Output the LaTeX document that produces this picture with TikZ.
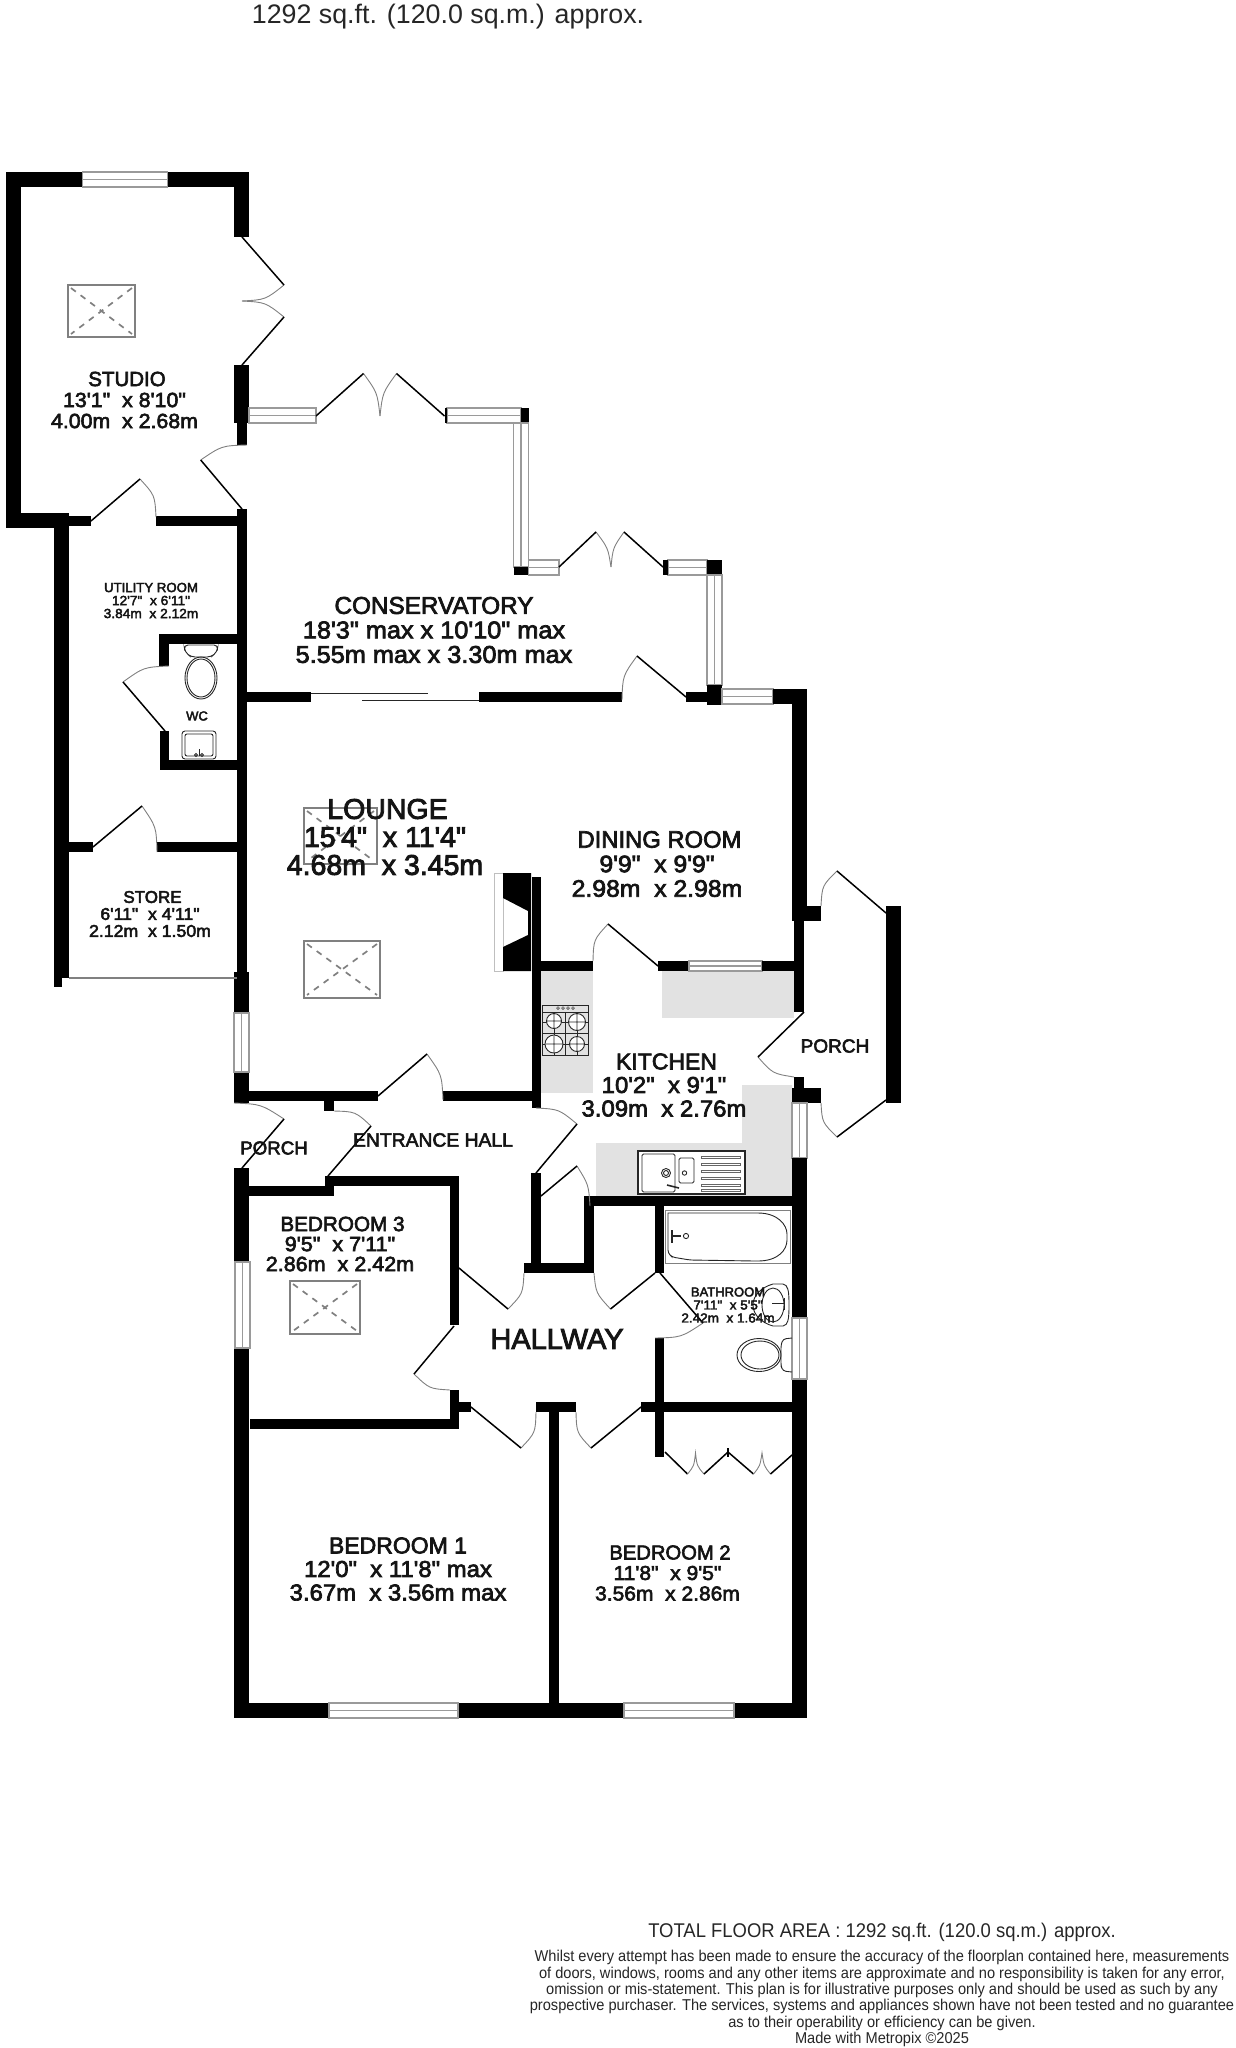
\documentclass[tikz,border=0pt]{standalone}
\usepackage{fontspec}
\usetikzlibrary{calc}
\newfontfamily\lab[FakeBold=3,FakeStretch=1.04]{Liberation Sans}
\newfontfamily\labn[FakeBold=3]{Liberation Sans}
\newfontfamily\plain{Liberation Sans}
\newfontfamily\narrowf[FakeStretch=0.93]{Liberation Sans}
\newcommand{\nm}[1]{\hspace*{5pt}{\labn #1}}
\newcommand{\nmz}[1]{{\labn #1}}
\definecolor{counter}{HTML}{E2E2E2}
\definecolor{wingray}{HTML}{9A9A9A}
\tikzset{
 wall/.style={fill=black},
 counterarea/.style={fill=counter},
 win/.style={draw=wingray,line width=1.1pt,fill=white},
 winmid/.style={draw=wingray,line width=1.4pt},
 leaf/.style={draw=black,line width=1.5pt},
 swing/.style={draw=gray,line width=0.9pt},
 sky/.style={draw=gray,line width=2pt},
 skyd/.style={draw=gray,line width=1.7pt,dash pattern=on 6pt off 6pt},
 fix/.style={draw=black!85,line width=0.9pt},
 rm/.style 2 args={align=center,inner sep=0pt,text=black!92,font=\lab\fontsize{#1}{#2}\selectfont},
 ft/.style 2 args={align=center,inner sep=0pt,text=black!85,font=\plain\fontsize{#1}{#2}\selectfont},
 fn/.style 2 args={align=center,inner sep=0pt,text=black!85,font=\narrowf\fontsize{#1}{#2}\selectfont},
}
\newcommand{\wl}[4]{\fill[wall] (#1,#3) rectangle (#2,#4);}
\newcommand{\hwin}[4]{\draw[win] (#1,#3) rectangle (#2,#4); \draw[winmid] (#1,{(#3+#4)/2}) -- (#2,{(#3+#4)/2});}
\newcommand{\vwin}[4]{\draw[win] (#1,#3) rectangle (#2,#4); \draw[winmid] ({(#1+#2)/2},#3) -- ({(#1+#2)/2},#4);}
\newcommand{\door}[4][0.56]{\draw[swing] (#3) .. controls ($(#2)+#1*($(#3)-(#2)$)+#1*($(#4)-(#2)$)$) .. (#4); \draw[leaf] (#2) -- (#3);}
\newcommand{\skylight}[4]{\draw[sky] (#1,#2) rectangle (#3,#4); \draw[skyd] (#1+3,#2+3) -- (#3-3,#4-3); \draw[skyd] (#3-3,#2+3) -- (#1+3,#4-3);}
\begin{document}
\begin{tikzpicture}[x=1pt,y=-1pt]
\useasboundingbox (0,0) rectangle (1235,2048);
% counters
\fill[counterarea] (541,971) rectangle (593,1093);
\fill[counterarea] (662,971) rectangle (794,1018);
\fill[counterarea] (596,1143) -- (742,1143) -- (742,1085) -- (792,1085) -- (792,1196) -- (596,1196) -- cycle;
% studio
\wl{6}{21}{172}{528}
\wl{6}{249}{172}{187}
\wl{234}{249}{172}{237}
\wl{234}{249}{365}{423}
\wl{237}{247}{423}{445}
\wl{6}{69}{513}{528}
\wl{21}{91}{516}{526}
\wl{156}{247}{516}{526}
\hwin{82.5}{167.5}{172}{187}
% utility
\wl{54}{69}{513}{978}
\wl{54}{62}{978}{987}
\wl{237}{247}{509}{972}
\wl{234}{249}{972}{1013}
\wl{234}{249}{1072}{1103}
\vwin{234}{249}{1013}{1072}
\wl{159}{247}{634}{644}
\wl{159}{169}{634}{666}
\wl{160}{169}{731}{770}
\wl{160}{247}{760}{770}
\wl{69}{93}{842}{852}
\wl{157}{247}{842}{852}
\draw[draw=gray,line width=1.2pt] (69,978) -- (237,978);
% conservatory
\hwin{249}{316}{408}{423}
\hwin{447}{521}{408}{423}
\wl{444.5}{447}{408}{423}
\wl{521}{528.5}{408}{423}
\vwin{513.5}{528.5}{423}{567}
\wl{513.5}{528.5}{567}{575}
\hwin{528.5}{559}{560}{575}
\hwin{668}{707}{560}{575}
\wl{663}{668}{560}{575}
\wl{707}{722}{560}{575}
\vwin{707}{722}{575}{685}
\wl{707}{722}{685}{705}
% lounge / dining top
\wl{247}{311}{692}{702}
\draw[fix] (311,693.5) -- (428,693.5);
\draw[fix] (362,700.7) -- (479,700.7);
\wl{479}{622}{692}{702}
\wl{686}{707}{692}{702}
\hwin{722}{773}{689}{704}
\wl{773}{807}{689}{704}
\wl{792}{807}{689}{921}
\wl{807}{821}{906}{921}
\wl{794}{804}{921}{1012}
\wl{886}{901}{906}{1103}
\wl{541}{593}{961}{971}
\wl{658}{689}{961}{971}
\hwin{689}{762}{961}{971}
\wl{762}{794}{961}{971}
\wl{532}{541}{877}{1108}
% fireplace
\draw[draw=black!25,line width=1pt,fill=white] (494,873) rectangle (503,971);
\fill[wall] (503,873) -- (531,873) -- (531,971) -- (503,971) -- (503,947) -- (528,935) -- (528,911) -- (503,898) -- cycle;
% lounge bottom / porch
\wl{249}{378}{1091}{1101}
\wl{443}{532}{1091}{1101}
\wl{324}{334}{1101}{1111}
\wl{234}{249}{1168}{1718}
\wl{249}{334}{1186}{1196}
\wl{325}{459}{1176}{1186}
\wl{450}{459}{1176}{1325}
\vwin{235}{250}{1262}{1348}
% core
\wl{524}{594}{1263}{1273}
\wl{531}{541}{1173}{1263}
\wl{584}{594}{1196}{1273}
\wl{590}{792}{1196}{1206}
\wl{655}{664}{1206}{1273}
\wl{655}{664}{1338}{1457}
\wl{641}{792}{1402}{1412}
\wl{536}{576}{1402}{1412}
\wl{549}{559}{1412}{1703}
\wl{459}{471}{1402}{1412}
\wl{450}{459}{1390}{1429}
\wl{250}{459}{1419}{1429}
% east wall
\wl{794}{804}{1077}{1088}
\wl{792}{821}{1088}{1103}
\vwin{792}{807}{1103}{1158}
\wl{792}{807}{1158}{1718}
\vwin{792}{807}{1318}{1379}
% south wall
\wl{234}{807}{1703}{1718}
\hwin{329}{458}{1703}{1718}
\hwin{624}{734}{1703}{1718}
% doors
\door{242,237}{284,285}{242,301}
\door{242,365}{284,317}{242,301}
\door[0.55]{316,416}{363.5,373.5}{380,416}
\door[0.55]{444.5,416}{396.5,373.5}{380,416}
\door{242,509}{200.7,460}{247,445}
\door{91,521}{140,479}{156,517}
\door{165,731}{123,682}{169,666}
\door{93,847}{142,806}{157,852}
\door[0.55]{559,567}{596,532}{611,567}
\door[0.55]{663,567}{624,532}{611,567}
\door{686,697}{637,656}{622,700}
\door{658,966}{608,924}{593,961}
\door{886,913}{837,871}{821,906}
\door{886,1100}{837,1137}{821,1103}
\door{804,1012}{758,1057}{794,1077}
\door{378,1096}{427,1054}{443,1100}
\door{328,1176}{371,1126}{334,1111}
\door{242,1168}{284,1119}{234,1103}
\door{536,1173}{577,1124}{536,1108}
\door{541,1196}{577,1166}{590,1206}
\door{459,1268}{508,1309}{524,1273}
\door{655,1273}{610.5,1309}{594,1273}
\door{660,1273}{703,1323}{655,1338}
\door{454,1326}{414,1374}{450,1390}
\door{471,1407}{521,1448}{536,1412}
\door{641,1407}{591,1448}{576,1412}
% wardrobe
\wl{727}{729}{1448}{1457}
\draw[leaf] (665,1452) -- (687.5,1474);
\draw[swing] (687.5,1474) .. controls (694,1466) .. (695.5,1453) .. controls (697,1466) .. (704,1474);
\draw[leaf] (704,1474) -- (728,1452) -- (753.5,1474);
\draw[swing] (753.5,1474) .. controls (760,1466) .. (762,1453) .. controls (764,1466) .. (770.5,1474);
\draw[leaf] (770.5,1474) -- (792,1455);
% skylights
\skylight{68}{285}{135}{337}
\skylight{304}{808}{377}{864}
\skylight{304}{941}{380}{998}
\skylight{290}{1281}{360}{1334}
% WC fixtures
\draw[fix,rounded corners=4pt] (184,645) -- (218,645) -- (217,652) -- (211,657) -- (191,657) -- (185,652) -- cycle;
\draw[fix] (201,678) ellipse [x radius=16,y radius=21];
\draw[fix] (201,678) ellipse [x radius=14,y radius=19];
\draw[fix,rounded corners=3pt] (182,731) rectangle (216,759);
\draw[fix,rounded corners=2pt] (185,734) rectangle (213,756);
\draw[fix] (199,749) -- (199,756);
\draw[fix] (196,755) circle [radius=1.5];
\draw[fix] (202,755) circle [radius=1.5];
% hob
\draw[fix] (542,1005) rectangle (588,1055);
\draw[fix] (565,1012) -- (565,1055);
\draw[fix] (542,1033) -- (588,1033);
\draw[fix] (542,1012) -- (588,1012);
\draw[fix] (542,1022) -- (588,1022);
\draw[fix] (542,1044) -- (588,1044);
\draw[fix] (554,1012) -- (554,1055);
\draw[fix] (577,1012) -- (577,1055);
\fill[white] (554,1021) circle [radius=7.5];
\fill[white] (577,1022) circle [radius=8.5];
\fill[white] (554,1044) circle [radius=9];
\fill[white] (577,1044) circle [radius=7.5];
\draw[fix] (554,1021) circle [radius=7.5] (547,1021) -- (561,1021) (554,1014) -- (554,1028);
\draw[fix] (577,1022) circle [radius=8.5] (569,1022) -- (585,1022) (577,1014) -- (577,1030);
\draw[fix] (554,1044) circle [radius=9] (546,1044) -- (562,1044) (554,1036) -- (554,1052);
\draw[fix] (577,1044) circle [radius=7.5] (570,1044) -- (584,1044) (577,1037) -- (577,1051);
\draw[fix,line width=0.5pt] (558,1008) circle [radius=1.4] (563,1008) circle [radius=1.4] (568,1008) circle [radius=1.4] (573,1008) circle [radius=1.4];
% sink
\draw[draw=black!85,line width=1.4pt,fill=white] (638,1151) rectangle (745,1194);
\draw[fix,rounded corners=1.5pt] (642,1154) rectangle (675,1192);
\draw[fix,rounded corners=1.5pt] (679,1158) rectangle (694,1183);
\draw[fix] (666,1173) circle [radius=4.5];
\draw[fix] (666,1173) circle [radius=2.5];
\draw[fix] (684.5,1173) circle [radius=2.2];
\draw[fix,line width=1.6pt] (667,1185) -- (679,1188);
\foreach \yy in {1157,1164,1171,1178,1185,1190}{\draw[draw=black!60,line width=0.8pt] (701,\yy-1) rectangle (740,\yy+1);}
% bath
\draw[draw=gray,line width=1pt] (665,1210) rectangle (790,1263);
\draw[fix,rounded corners=3pt] (668,1216) .. controls (668,1213) and (690,1213) .. (755,1213) .. controls (778,1213) and (787,1225) .. (787,1237) .. controls (787,1250) and (778,1261) .. (755,1261) -- (690,1260) -- (672,1257) -- (668,1253) -- cycle;
\draw[fix] (686,1236) circle [radius=2.6];
\draw[fix,line width=1.5pt] (672,1230) -- (672,1243) (672,1236) -- (681,1236);
% basin
\draw[fix] (773,1284) -- (783,1284) .. controls (788,1285) and (789,1290) .. (789,1305) .. controls (789,1320) and (788,1325) .. (783,1326) -- (773,1326) .. controls (762,1323) and (753,1315) .. (753,1305) .. controls (753,1295) and (762,1287) .. (773,1284);
\draw[fix] (773,1305) ellipse [x radius=11,y radius=17];
\draw[fix] (772,1303) -- (785,1303) (784,1298) -- (784,1310);
% bath toilet
\draw[fix,rounded corners=3pt] (792,1338) -- (783,1339) -- (781,1345) -- (781,1366) -- (783,1371) -- (792,1372);
\draw[fix] (759,1355) ellipse [x radius=22,y radius=16.5];
\draw[fix] (760,1355) ellipse [x radius=19,y radius=14];
% labels
\node[ft={26.8}{30}] (head) at (448,17) {1292 sq.ft. (120.0 sq.m.) approx.};
\node[rm={20.5}{21}] (studio) at (124.5,400) {\nm{STUDIO}\\13'1"\ \ x 8'10"\\4.00m\ \ x 2.68m};
\node[rm={24.3}{24.5}] (conservatory) at (434,630) {\nmz{CONSERVATORY}\\18'3" max x 10'10" max\\5.55m max x 3.30m max};
\node[rm={13.2}{13}] (utility) at (151,600.5) {\nmz{UTILITY ROOM}\\12'7"\ \ x 6'11"\\3.84m\ \ x 2.12m};
\node[rm={13}{13}] (wc) at (197,716) {\nmz{WC}};
\node[rm={17}{17}] (store) at (150,914) {\nm{STORE}\\6'11"\ \ x 4'11"\\2.12m\ \ x 1.50m};
\node[rm={28.5}{28}] (lounge) at (385,837) {\nm{LOUNGE}\\{\labn 15'4"\ \ x 11'4"}\\{\labn 4.68m\ \ x 3.45m}};
\node[rm={23.8}{24.5}] (dining) at (657,864) {\nm{DINING ROOM}\\9'9"\ \ x 9'9"\\2.98m\ \ x 2.98m};
\node[rm={23}{23.5}] (kitchen) at (664,1085) {\nm{KITCHEN}\\10'2"\ \ x 9'1"\\3.09m\ \ x 2.76m};
\node[rm={19}{19}] (porchr) at (835,1046) {\nmz{PORCH}};
\node[rm={18.7}{19}] (porchl) at (274,1148) {\nmz{PORCH}};
\node[rm={19.3}{19}] (hall) at (433,1140) {\nmz{ENTRANCE HALL}};
\node[rm={20.7}{20}] (bed3) at (340,1244) {\nm{BEDROOM 3}\\9'5"\ \ x 7'11"\\2.86m\ \ x 2.42m};
\node[rm={29}{28}] (hallway) at (557,1339) {\nmz{HALLWAY}};
\node[rm={13}{13}] (bath) at (728,1305) {\nmz{BATHROOM}\\7'11"\ \ x 5'5"\\2.42m\ \ x 1.64m};
\node[rm={23}{23.5}] (bed1) at (398,1569) {\nmz{BEDROOM 1}\\12'0"\ \ x 11'8" max\\3.67m\ \ x 3.56m max};
\node[rm={20.2}{20.5}] (bed2) at (667.5,1573) {\nm{BEDROOM 2}\\11'8"\ \ x 9'5"\\3.56m\ \ x 2.86m};
\node[fn={19.85}{24}] (total) at (882,1932) {TOTAL FLOOR AREA : 1292 sq.ft. (120.0 sq.m.) approx.};
\node[fn={15.7}{16.3}] (legal) at (882,1998.5) {Whilst every attempt has been made to ensure the accuracy of the floorplan contained here, measurements\\of doors, windows, rooms and any other items are approximate and no responsibility is taken for any error,\\omission or mis-statement. This plan is for illustrative purposes only and should be used as such by any\\prospective purchaser. The services, systems and appliances shown have not been tested and no guarantee\\as to their operability or efficiency can be given.\\Made with Metropix \textcopyright 2025};
\end{tikzpicture}
\end{document}
